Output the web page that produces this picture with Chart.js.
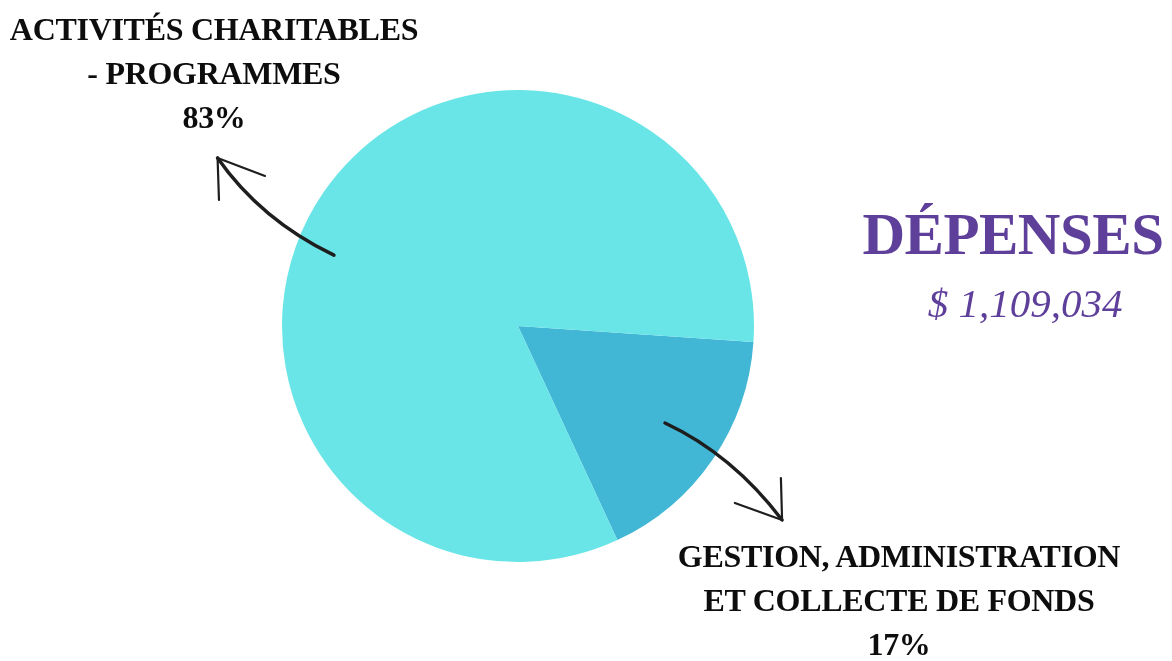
<!DOCTYPE html>
<html>
<head>
<meta charset="utf-8">
<script src="https://cdn.jsdelivr.net/npm/chart.js@4/dist/chart.umd.min.js"></script>
<style>
  html, body { margin: 0; padding: 0; background: #ffffff; }
  #wrap { position: relative; width: 1172px; height: 661px; overflow: hidden; }
  #c { position: absolute; left: 0; top: 0; }
  .lbl { position: absolute; font-family: "Liberation Serif", "DejaVu Serif", serif; font-weight: bold; color: #0d0d0d; text-align: center; white-space: nowrap; }
  #l1 { left: 0px; width: 428px; top: 7px; font-size: 32px; line-height: 44px; letter-spacing: -0.3px; }
  #l2 { left: 650px; width: 498px; top: 534px; font-size: 32px; line-height: 44px; letter-spacing: -0.3px; }
  #title { position: absolute; left: 840px; width: 346px; top: 200px; text-align: center; font-family: "Liberation Serif", serif; font-weight: bold; font-size: 59px; color: #5E3F9A; letter-spacing: -0.5px; }
  #amount { position: absolute; left: 895px; width: 260px; top: 279px; text-align: center; font-family: "Liberation Serif", serif; font-style: italic; font-size: 41px; color: #5E3F9A; }
</style>
</head>
<body>
<div id="wrap">
  <canvas id="c" width="1172" height="661"></canvas>
  <div class="lbl" id="l1">ACTIVITÉS CHARITABLES<br>- PROGRAMMES<br>83%</div>
  <div class="lbl" id="l2">GESTION, ADMINISTRATION<br>ET COLLECTE DE FONDS<br>17%</div>
  <div id="title">DÉPENSES</div>
  <div id="amount">$ 1,109,034</div>
</div>
<script>
const categories = ["Gestion, administration et collecte de fonds", "Activités charitables - programmes"];
const percentages = [17, 83];
const sliceColors = ["#42B7D5", "#69E5E8"];

// hand-drawn style arrows, expressed relative to pie centre / radius
const arrowPlugin = {
  id: 'arrows',
  afterDatasetsDraw(chart) {
    const arc = chart.getDatasetMeta(0).data[0];
    const cx = arc.x, cy = arc.y, r = arc.outerRadius;
    const ctx = chart.ctx;
    const P = (fx, fy) => [cx + fx * r, cy + fy * r];
    function arrow(tail, ctrl, tip, b1, b2) {
      ctx.save();
      ctx.strokeStyle = '#1e1e1e';
      ctx.lineCap = 'round';
      ctx.lineJoin = 'round';
      ctx.lineWidth = 3.5;
      ctx.beginPath();
      ctx.moveTo(tail[0], tail[1]);
      ctx.quadraticCurveTo(ctrl[0], ctrl[1], tip[0], tip[1]);
      ctx.stroke();
      ctx.lineWidth = 2.2;
      ctx.beginPath();
      ctx.moveTo(tip[0], tip[1]); ctx.lineTo(b1[0], b1[1]);
      ctx.moveTo(tip[0], tip[1]); ctx.lineTo(b2[0], b2[1]);
      ctx.stroke();
      ctx.restore();
    }
    // upper-left arrow
    arrow(P(-0.78, -0.30), P(-1.09, -0.45), P(-1.273, -0.712), P(-1.072, -0.636), P(-1.267, -0.534));
    // lower-right arrow
    arrow(P(0.623, 0.411), P(0.909, 0.545), P(1.119, 0.822), P(0.919, 0.75), P(1.114, 0.644));
  }
};

new Chart(document.getElementById('c'), {
  type: 'pie',
  data: {
    labels: categories,
    datasets: [{
      data: percentages,
      backgroundColor: sliceColors,
      borderWidth: 0
    }]
  },
  options: {
    responsive: false,
    animation: false,
    rotation: 93.9,
    layout: { padding: { left: 282, right: 418, top: 90, bottom: 99 } },
    plugins: { legend: { display: false }, tooltip: { enabled: false } }
  },
  plugins: [arrowPlugin]
});
</script>
</body>
</html>
